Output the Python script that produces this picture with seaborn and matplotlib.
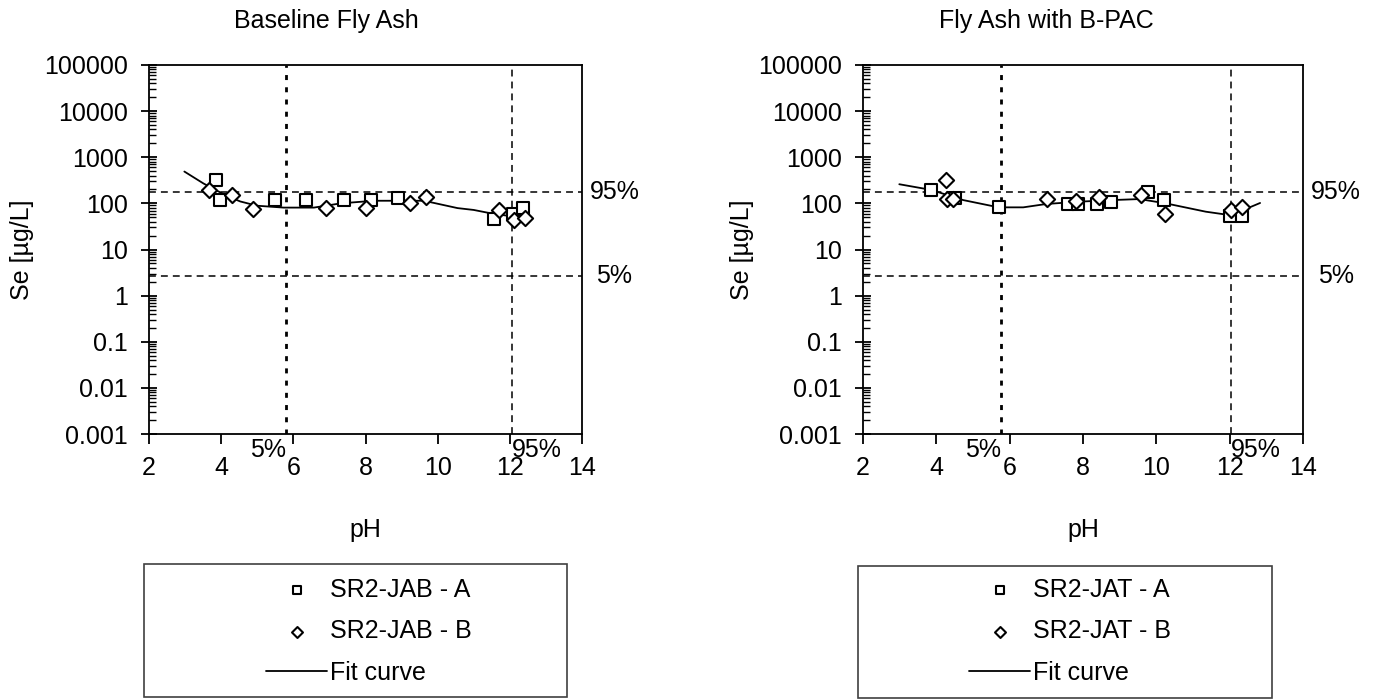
import matplotlib
matplotlib.use("Agg")
import matplotlib.pyplot as plt
import matplotlib.transforms as mtransforms
from matplotlib.patches import Rectangle
from matplotlib.ticker import LogLocator, NullFormatter
import seaborn as sns

# Baseline Fly Ash (SR2-JAB)
jab_a_ph = [3.87, 3.98, 5.48, 6.36, 7.40, 8.16, 8.90, 11.56, 12.09, 12.37]
jab_a_se = [320, 120, 120, 120, 120, 120, 130, 46, 59, 78]
jab_b_ph = [3.67, 4.31, 4.89, 6.91, 8.01, 9.23, 9.69, 11.71, 12.12, 12.42]
jab_b_se = [195, 155, 75, 81, 79, 100, 139, 72, 44, 48]
jab_fit_ph = [2.98, 3.51, 4.16, 4.53, 4.99, 5.73, 6.57, 7.31, 8.23, 8.88, 9.62, 10.55, 11.0, 11.56, 11.94, 12.2]
jab_fit_se = [490, 270, 145, 110, 89, 81, 81, 100, 114, 114, 114, 79, 72, 59, 54, 55]
jab_pct_ph = [5.79, 12.07]
jab_pct_se = [2.6, 178]

# Fly Ash with B-PAC (SR2-JAT)
jat_a_ph = [3.86, 4.51, 5.70, 7.59, 7.86, 8.39, 8.77, 9.76, 10.21, 12.0, 12.33]
jat_a_se = [196, 128, 85, 97, 97, 97, 105, 180, 118, 52, 52]
jat_b_ph = [4.26, 4.28, 4.46, 7.02, 7.80, 8.43, 9.58, 10.24, 12.03, 12.34]
jat_b_se = [318, 124, 124, 124, 110, 139, 153, 59, 73, 82]
jat_fit_ph = [2.99, 3.86, 4.73, 5.70, 6.37, 7.0, 7.91, 8.81, 9.54, 10.26, 11.35, 11.98, 12.34, 12.83]
jat_fit_se = [260, 196, 118, 82, 82, 97, 109, 118, 124, 100, 66, 56, 70, 102]
jat_pct_ph = [5.76, 12.03]
jat_pct_se = [2.6, 178]

y_ticks = [0.001, 0.01, 0.1, 1, 10, 100, 1000, 10000, 100000]
y_tick_labels = ["0.001", "0.01", "0.1", "1", "10", "100", "1000", "10000", "100000"]
x_ticks = [2, 4, 6, 8, 10, 12, 14]

sns.set_theme(style="white")
plt.rcParams["font.family"] = ["Liberation Sans", "DejaVu Sans"]
plt.rcParams["text.color"] = "black"
plt.rcParams["axes.labelcolor"] = "black"
plt.rcParams["xtick.color"] = "black"
plt.rcParams["ytick.color"] = "black"
FS = 18

W, H = 1377, 700
fig = plt.figure(figsize=(W / 100, H / 100), dpi=100)


def px_axes(x0, x1, y0, y1):
    return fig.add_axes([x0 / W, 1 - y1 / H, (x1 - x0) / W, (y1 - y0) / H])


panels = [
    dict(box=(149, 582, 65, 434), title="Baseline Fly Ash", tx=0.409, ylx=-0.293,
         a=(jab_a_ph, jab_a_se), b=(jab_b_ph, jab_b_se), fit=(jab_fit_ph, jab_fit_se),
         pph=jab_pct_ph, pse=jab_pct_se, la="SR2-JAB - A", lb="SR2-JAB - B",
         legbox=(144, 567, 564, 697), legx=266),
    dict(box=(863, 1303, 65, 434), title="Fly Ash with B-PAC", tx=0.416, ylx=-0.275,
         a=(jat_a_ph, jat_a_se), b=(jat_b_ph, jat_b_se), fit=(jat_fit_ph, jat_fit_se),
         pph=jat_pct_ph, pse=jat_pct_se, la="SR2-JAT - A", lb="SR2-JAT - B",
         legbox=(858, 1272, 566, 698), legx=969),
]

for p in panels:
    ax = px_axes(*p["box"])
    ax.set_yscale("log")

    sns.scatterplot(x=p["a"][0], y=p["a"][1], marker="s", s=70, color="white",
                    edgecolor="black", linewidth=1.5, label=p["la"], ax=ax, zorder=4)
    sns.scatterplot(x=p["b"][0], y=p["b"][1], marker="D", s=60, color="white",
                    edgecolor="black", linewidth=1.5, label=p["lb"], ax=ax, zorder=4)
    sns.lineplot(x=p["fit"][0], y=p["fit"][1], color="black", linewidth=1.3,
                 label="Fit curve", ax=ax, zorder=3)

    # percentile reference lines
    ax.axvline(p["pph"][0], color="black", lw=2.0, ls=(0, (1.8, 2.6)), zorder=2)
    ax.axvline(p["pph"][1], color="black", lw=1.1, ls=(0, (4.5, 3.3)), zorder=2)
    for v in p["pse"]:
        ax.axhline(v, color="black", lw=1.1, ls=(0, (4.5, 3.3)), zorder=2)

    ax.set_xlim(2, 14)
    ax.set_ylim(0.001, 100000)
    ax.set_xticks(x_ticks)
    ax.set_yticks(y_ticks, labels=y_tick_labels)
    ax.yaxis.set_minor_locator(LogLocator(base=10, subs=range(2, 10), numticks=100))
    ax.yaxis.set_minor_formatter(NullFormatter())

    for s in ax.spines.values():
        s.set_color("black")
        s.set_linewidth(1.3)
    ax.tick_params(axis="y", which="major", direction="inout", length=11.5, width=1.3,
                   pad=9.4, labelsize=FS, left=True, colors="black")
    ax.tick_params(axis="y", which="minor", direction="in", length=5, width=1.0,
                   left=True, colors="black")
    ax.tick_params(axis="x", which="major", direction="out", length=7, width=1.3,
                   pad=9, labelsize=FS, bottom=True, colors="black")
    ax.grid(False)

    ax.set_xlabel("pH", fontsize=FS, va="center")
    ax.xaxis.set_label_coords(0.5, -0.26)
    ax.set_ylabel("Se [µg/L]", fontsize=FS, va="center")
    ax.yaxis.set_label_coords(p["ylx"], 0.5)
    ax.set_title(p["title"], fontsize=FS, x=p["tx"], y=1.1, pad=0, color="black")

    # percentile labels
    tr_x = mtransforms.blended_transform_factory(ax.transData, ax.transAxes)
    ax.text(p["pph"][0], -0.043, "5%", transform=tr_x, ha="right", va="center", fontsize=FS)
    ax.text(p["pph"][1], -0.043, "95%", transform=tr_x, ha="left", va="center", fontsize=FS)
    tr_y = mtransforms.blended_transform_factory(ax.transAxes, ax.transData)
    ax.text(1.075, p["pse"][1], "95%", transform=tr_y, ha="center", va="center", fontsize=FS)
    ax.text(1.075, p["pse"][0], "5%", transform=tr_y, ha="center", va="center", fontsize=FS)

    handles, labels = ax.get_legend_handles_labels()
    ax.get_legend().remove()

    x0, x1, y0, y1 = p["legbox"]
    fig.add_artist(Rectangle((x0 / W, 1 - y1 / H), (x1 - x0) / W, (y1 - y0) / H,
                             transform=fig.transFigure, fill=False,
                             edgecolor="#404040", linewidth=1.2))
    fig.legend(handles, labels, loc="upper left",
               bbox_to_anchor=(p["legx"] / W, 1 - 578 / H), frameon=False,
               borderpad=0, borderaxespad=0, handlelength=2.45, handletextpad=0.1,
               labelspacing=0.69, markerscale=0.72, fontsize=FS, labelcolor="black")

fig.savefig("out.png", dpi=100)
